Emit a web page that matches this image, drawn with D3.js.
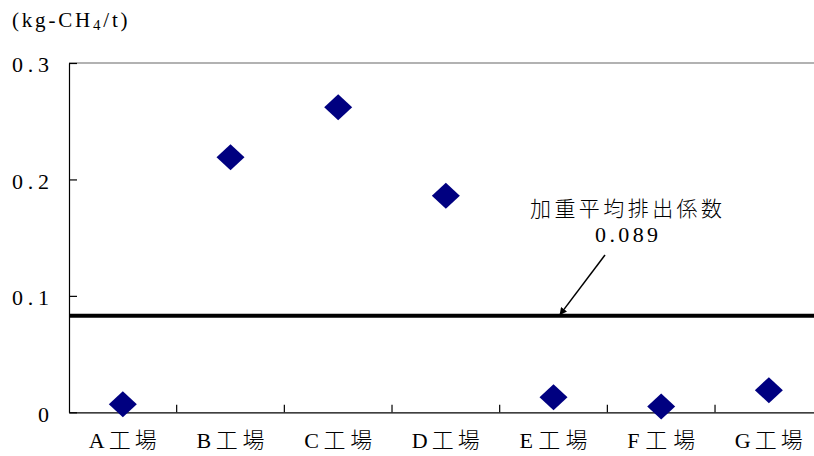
<!DOCTYPE html>
<html>
<head>
<meta charset="utf-8">
<script src="https://cdn.jsdelivr.net/npm/d3@7"></script>
<style>
  html, body { margin: 0; padding: 0; background: #fff; }
  svg { display: block; }
  text { font-family: "Liberation Serif", "Noto Sans CJK JP", serif; fill: #000; }
</style>
</head>
<body>
<svg id="chart" width="814" height="456"></svg>
<script>
// ---- data ----
const categories = ["A工場", "B工場", "C工場", "D工場", "E工場", "F工場", "G工場"];
const values = [0.007, 0.219, 0.262, 0.186, 0.013, 0.005, 0.019];
const yTicks = [0, 0.1, 0.2, 0.3];
const yTickLabels = ["0", "0.1", "0.2", "0.3"];
const averageLineValue = 0.083;
const averageLabel = ["加重平均排出係数", "0.089"];
const unitLabel = ["(kg-CH", "4", "/t)"];

// ---- layout ----
const W = 814, H = 456;
const mLeft = 69, mTop = 63, mBottom = 412.3, mRight = 822.7;

const svg = d3.select("#chart");

const x = d3.scaleBand().domain(categories).range([mLeft, mRight]).padding(0);
const y = d3.scaleLinear().domain([0, 0.3]).range([mBottom, mTop]);

// plot area top border (gray)
svg.append("line")
  .attr("x1", mLeft).attr("x2", W)
  .attr("y1", y(0.3)).attr("y2", y(0.3))
  .attr("stroke", "#999").attr("stroke-width", 1.6);

// y axis
const yAxis = d3.axisLeft(y)
  .tickValues(yTicks)
  .tickSizeInner(-8)
  .tickSizeOuter(0)
  .tickPadding(20)
  .tickFormat((d, i) => yTickLabels[i]);
const gy = svg.append("g").attr("transform", `translate(${mLeft},0)`).call(yAxis);
gy.select(".domain").attr("stroke", "#000").attr("stroke-width", 1.2);
gy.selectAll(".tick line").attr("stroke", "#000").attr("stroke-width", 1.2);
gy.selectAll(".tick text")
  .attr("font-size", 22)
  .attr("font-family", "Liberation Serif")
  .attr("dy", "0.4em")
  .each(function(d, i) {
    const t = yTickLabels[i];
    if (t.length > 1) d3.select(this).attr("textLength", 37).attr("lengthAdjust", "spacing");
  });

// x axis line
const xAxis = d3.axisBottom(x).tickSize(0).tickPadding(24);
const gx = svg.append("g").attr("transform", `translate(0,${mBottom})`).call(xAxis);
gx.select(".domain").attr("stroke", "#000").attr("stroke-width", 1.2);
gx.selectAll(".tick text")
  .attr("font-size", 22)
  .attr("font-weight", 300)
  .attr("dy", "0.55em")
  .attr("textLength", 68)
  .attr("lengthAdjust", "spacing");

// x boundary ticks (inward)
svg.append("g").selectAll("line")
  .data(categories.slice(1))
  .join("line")
  .attr("x1", d => x(d)).attr("x2", d => x(d))
  .attr("y1", mBottom).attr("y2", mBottom - 7.5)
  .attr("stroke", "#000").attr("stroke-width", 1.2);

// average line
svg.append("line")
  .attr("x1", mLeft).attr("x2", W)
  .attr("y1", y(averageLineValue)).attr("y2", y(averageLineValue))
  .attr("stroke", "#000").attr("stroke-width", 4);

// diamonds
const diamond = "M0,-13 L14,0 L0,13 L-14,0 Z";
svg.append("g").selectAll("path")
  .data(values)
  .join("path")
  .attr("d", diamond)
  .attr("transform", (d, i) => `translate(${x(categories[i]) + x.bandwidth() / 2},${y(d)})`)
  .attr("fill", "#000080");

// annotation arrow
const defs = svg.append("defs");
defs.append("marker")
  .attr("id", "arrow")
  .attr("viewBox", "0 0 10 10")
  .attr("refX", 9).attr("refY", 5)
  .attr("markerWidth", 5).attr("markerHeight", 5)
  .attr("orient", "auto")
  .append("path").attr("d", "M0,0 L10,5 L0,10 Z").attr("fill", "#000");

svg.append("line")
  .attr("x1", 605).attr("y1", 255)
  .attr("x2", 560).attr("y2", y(averageLineValue) - 1)
  .attr("stroke", "#000").attr("stroke-width", 1.5)
  .attr("marker-end", "url(#arrow)");

svg.append("text")
  .attr("x", 626).attr("y", 216)
  .attr("text-anchor", "middle")
  .attr("font-size", 21)
  .attr("font-weight", 300)
  .attr("textLength", 192).attr("lengthAdjust", "spacing")
  .text(averageLabel[0]);
svg.append("text")
  .attr("x", 626.5).attr("y", 242)
  .attr("text-anchor", "middle")
  .attr("font-size", 22)
  .attr("textLength", 63).attr("lengthAdjust", "spacing")
  .text(averageLabel[1]);

// unit label
const ut = svg.append("text").attr("x", 12).attr("y", 27).attr("font-size", 21).attr("letter-spacing", 2.8);
ut.append("tspan").text(unitLabel[0]);
ut.append("tspan").attr("font-size", 15).attr("dy", 3).text(unitLabel[1]);
ut.append("tspan").attr("dy", -3).text(unitLabel[2]);
</script>
</body>
</html>
